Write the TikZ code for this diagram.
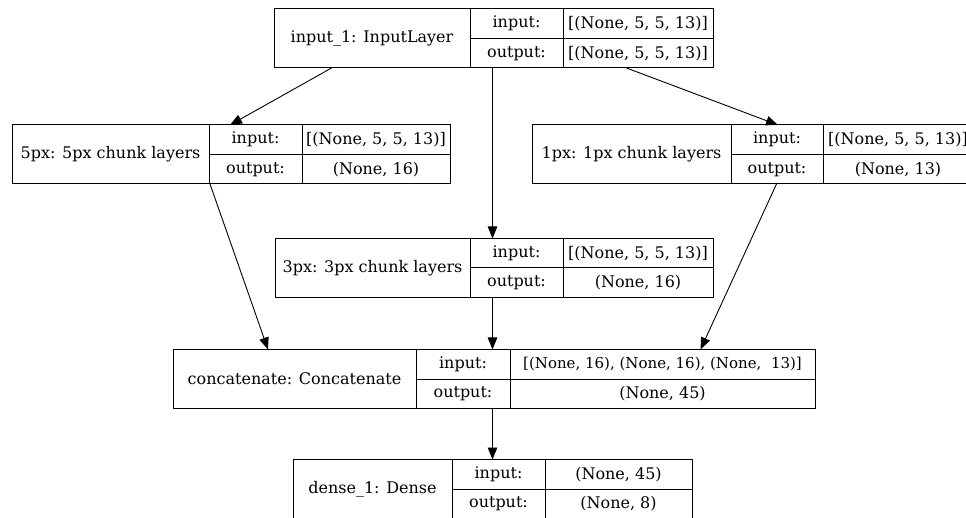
\documentclass[tikz,border=0pt]{standalone}
\usepackage{fontspec}
\setmainfont{DejaVu Serif}
\usepackage{tikz}
\usetikzlibrary{arrows.meta}
\usetikzlibrary{positioning}

\tikzset{
  cell/.style={draw, rectangle, inner sep=0pt, outer sep=0pt, line width=1pt},
  flow/.style={-{Triangle[length=12pt, width=9.5pt]}, line width=0.9pt}
}

% one keras layer: name, centre, widths of the three columns, label, input, output
\newcommand{\kerasnode}[8]{%
  \node[cell, minimum width=#3+#4+#5, minimum height=59] (#1) at #2 {};
  \node[cell, anchor=north west, minimum width=#3, minimum height=59] (#1-name) at (#1.north west) {#6};
  \node[cell, anchor=north west, minimum width=#4, minimum height=29.5] (#1-in) at (#1-name.north east) {input:};
  \node[cell, anchor=north west, minimum width=#5, minimum height=29.5] (#1-inv) at (#1-in.north east) {#7};
  \node[cell, anchor=north west, minimum width=#4, minimum height=29.5] (#1-out) at (#1-in.south west) {output:};
  \node[cell, anchor=north west, minimum width=#5, minimum height=29.5] (#1-outv) at (#1-out.north east) {#8};
}

\begin{document}
\begin{tikzpicture}[x=1pt, y=-1pt, font=\fontsize{16}{19}\selectfont]

\useasboundingbox (0,0) rectangle (966,518);

\kerasnode{input1}{(493.5,38.5)}{196}{93}{150}{input\_1: InputLayer}{[(None, 5, 5, 13)]}{[(None, 5, 5, 13)]}
\kerasnode{fivepx}{(231,154.5)}{197}{93}{148}{5px: 5px chunk layers}{[(None, 5, 5, 13)]}{(None, 16)}
\kerasnode{onepx}{(752.5,154.5)}{199}{92}{150}{1px: 1px chunk layers}{[(None, 5, 5, 13)]}{(None, 13)}
\kerasnode{threepx}{(494,268)}{195}{93}{150}{3px: 3px chunk layers}{[(None, 5, 5, 13)]}{(None, 16)}
\kerasnode{concat}{(494,379)}{243}{94}{305}{concatenate: Concatenate}{\fontsize{15}{18}\selectfont[(None, 16), (None, 16), (None,\ \ 13)]}{(None, 45)}
\kerasnode{dense1}{(492.5,489)}{159}{93}{147}{dense\_1: Dense}{(None, 45)}{(None, 8)}

% edges
\draw[flow] ([xshift=-162pt]input1.south) -- ([xshift=-1pt]fivepx.north);
\draw[flow] ([xshift=-1pt]input1.south) -- ([xshift=-1.5pt]threepx.north);
\draw[flow] ([xshift=133pt]input1.south) -- ([xshift=25.5pt]onepx.north);

\draw[flow] ([xshift=-21pt]fivepx.south) -- ([xshift=-226pt]concat.north);
\draw[flow] ([xshift=-1.5pt]threepx.south) -- ([xshift=-1.5pt]concat.north);
\draw[flow] ([xshift=24pt]onepx.south) -- ([xshift=206.5pt]concat.north);

\draw[flow] ([xshift=-1.5pt]concat.south) -- (dense1.north);

\end{tikzpicture}
\end{document}
